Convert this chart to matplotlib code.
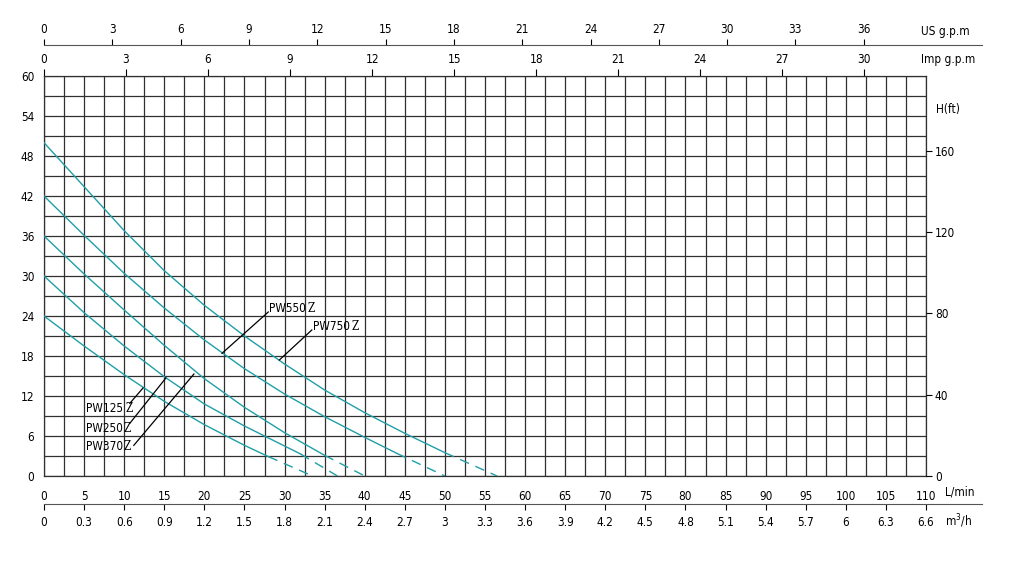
import matplotlib
matplotlib.use("Agg")
import matplotlib.pyplot as plt
from matplotlib import font_manager
from matplotlib.ticker import MultipleLocator

# ---------------- data ----------------
flow_ticks = list(range(0, 111, 5))                      # L/min
head_ticks = list(range(0, 61, 6))                       # m
ft_ticks = [0, 40, 80, 120, 160]                         # ft
us_gpm_ticks = list(range(0, 37, 3))
imp_gpm_ticks = list(range(0, 31, 3))
m3h_ticks = [0, 0.3, 0.6, 0.9, 1.2, 1.5, 1.8, 2.1, 2.4, 2.7, 3, 3.3, 3.6,
             3.9, 4.2, 4.5, 4.8, 5.1, 5.4, 5.7, 6, 6.3, 6.6]

pumps = ["PW125", "PW250", "PW370", "PW550", "PW750"]

q_pw125 = [0, 5, 10, 15, 20, 25, 28, 33.5]
h_pw125 = [24, 19.5, 15.2, 11.2, 7.7, 4.6, 2.9, 0]
q_pw250 = [0, 5, 10, 15, 20, 25, 30, 32, 36.6]
h_pw250 = [30, 24.5, 19.5, 14.9, 10.8, 7.5, 4.5, 3.3, 0]
q_pw370 = [0, 5, 10, 15, 20, 25, 30, 35, 40]
h_pw370 = [36, 30.3, 24.9, 19.6, 14.6, 10.3, 6.5, 3.1, 0]
q_pw550 = [0, 5, 10, 15, 20, 25, 30, 35, 40, 44, 50]
h_pw550 = [42, 36.1, 30.4, 25.2, 20.4, 16.1, 12.3, 8.9, 5.8, 3.4, 0]
q_pw750 = [0, 5, 10, 15, 20, 25, 30, 35, 40, 45, 50, 56.5]
h_pw750 = [50, 43.4, 36.8, 30.8, 25.6, 21.0, 16.8, 12.9, 9.5, 6.4, 3.5, 0]
# flow at which the solid part of each curve ends (dashed afterwards)
solid_until = [28, 32, 35, 44, 50]

series_q = [q_pw125, q_pw250, q_pw370, q_pw550, q_pw750]
series_h = [h_pw125, h_pw250, h_pw370, h_pw550, h_pw750]

# unit scales
LPM_PER_US = 2.84
LPM_PER_IMP = 3.41
M3H_PER_LPM = 0.06
M_PER_FT = 0.3048

# ---------------- font: prefer a condensed sans ----------------
def pick_condensed():
    ttf = font_manager.fontManager.ttflist
    prefs = ["Liberation Sans Narrow", "DejaVu Sans", "Roboto", "Noto Sans",
             "Open Sans", "Lato", "Inter", "Liberation Sans"]
    for fam in prefs:
        for f in ttf:
            st = str(f.stretch)
            cond = (st in ("condensed", "semi-condensed", "extra-condensed")
                    or "Condensed" in f.name or "Narrow" in f.name
                    or "Condensed" in f.fname or "Narrow" in f.fname)
            if f.name == fam and cond and f.style == "normal" and \
                    str(f.weight) in ("400", "normal", "regular", "book", "Regular"):
                return f
    return None

cf = pick_condensed()
if cf is not None:
    plt.rcParams["font.family"] = [cf.name, "DejaVu Sans"]
    plt.rcParams["font.stretch"] = cf.stretch
    LAB_FS = 8.5
else:
    plt.rcParams["font.family"] = ["DejaVu Sans"]
    LAB_FS = 7
plt.rcParams["font.size"] = 8.5

# ---------------- layout ----------------
W, H = 1015, 561
def fx(px): return px / W
def fy(py): return 1 - py / H

GRID = "#303030"
CURVE = "#1f9fa6"

fig = plt.figure(figsize=(W / 100, H / 100), dpi=100)
x0, x1, y0, y1 = 44, 926, 76, 476
ax = fig.add_axes([fx(x0), fy(y1), fx(x1) - fx(x0), fy(y0) - fy(y1)])
ax.set_xlim(0, 110)
ax.set_ylim(0, 60)
ax.xaxis.set_minor_locator(MultipleLocator(2.5))
ax.yaxis.set_minor_locator(MultipleLocator(3))
ax.set_xticks(flow_ticks)
ax.set_yticks(head_ticks)
ax.grid(which="both", color=GRID, linewidth=0.9)
ax.set_axisbelow(True)
ax.tick_params(which="both", length=0)
ax.tick_params(axis="x", pad=10)
ax.tick_params(axis="y", pad=7)
for s in ax.spines.values():
    s.set_color(GRID)
    s.set_linewidth(0.9)

# curves
for q, h, qs in zip(series_q, series_h, solid_until):
    k = q.index(qs)
    ax.plot(q[:k + 1], h[:k + 1], color=CURVE, lw=1.0, zorder=3)
    ax.plot(q[k:], h[k:], color=CURVE, lw=1.0, zorder=3, dashes=(7, 5))

# labels with leaders: text pos (data), gap before Z (px), leader ends
lab_text = [(5.25, 10.2), (5.3, 7.2), (5.3, 4.35), (28.1, 25.2), (33.5, 22.35)]
z_gap = [2, 0, 0, 1, 2]
lead_a = [(10.7, 10.9), (10.7, 7.9), (11.2, 4.6), (22.2, 18.4), (29.35, 17.4)]
lead_b = [(12.35, 13.2), (15.2, 14.7), (18.7, 15.3), (27.97, 24.6), (33.4, 21.9)]
for name, tp, gap, a, b in zip(pumps, lab_text, z_gap, lead_a, lead_b):
    t = ax.text(tp[0], tp[1], name, ha="left", va="center", fontsize=LAB_FS,
                zorder=5)
    ax.annotate("Z", xy=(1, 0.5), xycoords=t, xytext=(gap * 0.72, 0),
                textcoords="offset points", ha="left", va="center",
                fontsize=8.5, family="DejaVu Serif", zorder=5)
    ax.plot([a[0], b[0]], [a[1], b[1]], color="black", lw=0.9, zorder=4)

# right axis in feet
axr = ax.twinx()
axr.set_ylim(0, 60 / M_PER_FT)
axr.set_yticks(ft_ticks)
axr.tick_params(axis="y", direction="out", length=4.3, width=0.8, pad=2,
                color="black")
for s in axr.spines.values():
    s.set_visible(False)
fig.text(fx(936), fy(110), "H(ft)", ha="left", va="center", fontsize=8.5)

# Imp gpm axis on top of plot
sec = ax.secondary_xaxis("top", functions=(lambda x: x / LPM_PER_IMP,
                                            lambda x: x * LPM_PER_IMP))
sec.set_xticks(imp_gpm_ticks)
sec.tick_params(direction="out", length=5, width=0.8, pad=2)
sec.spines["top"].set_visible(False)
fig.text(fx(921), fy(60), "Imp g.p.m", ha="left", va="center", fontsize=8.5)

# US gpm axis (separate line above)
ext = 982
span_lpm = (ext - x0) * 110 / (x1 - x0)
axu = fig.add_axes([fx(x0), fy(45), fx(ext) - fx(x0), 0.0001])
axu.set_xlim(0, span_lpm / LPM_PER_US)
axu.set_xticks(us_gpm_ticks)
axu.xaxis.set_ticks_position("top")
axu.tick_params(axis="x", direction="out", length=4.5, width=0.8, pad=2)
axu.set_yticks([])
for k in ["left", "right", "bottom"]:
    axu.spines[k].set_visible(False)
axu.spines["top"].set_color("#555555")
axu.patch.set_visible(False)
fig.text(fx(921), fy(32), "US g.p.m", ha="left", va="center", fontsize=8.5)

# m3/h axis (separate line below)
axm = fig.add_axes([fx(x0), fy(504), fx(ext) - fx(x0), 0.0001])
axm.set_xlim(0, span_lpm * M3H_PER_LPM)
axm.set_xticks(m3h_ticks)
axm.set_xticklabels([f"{v:g}" for v in m3h_ticks])
axm.tick_params(axis="x", direction="out", length=4.5, width=0.8, pad=4)
axm.set_yticks([])
for k in ["left", "right", "top"]:
    axm.spines[k].set_visible(False)
axm.spines["bottom"].set_color("#555555")
axm.patch.set_visible(False)

fig.text(fx(945), fy(492), "L/min", ha="left", va="center", fontsize=8.5)
fig.text(fx(945), fy(521), "m$^3$/h", ha="left", va="center", fontsize=8.5)

fig.savefig("out.png", dpi=100)
